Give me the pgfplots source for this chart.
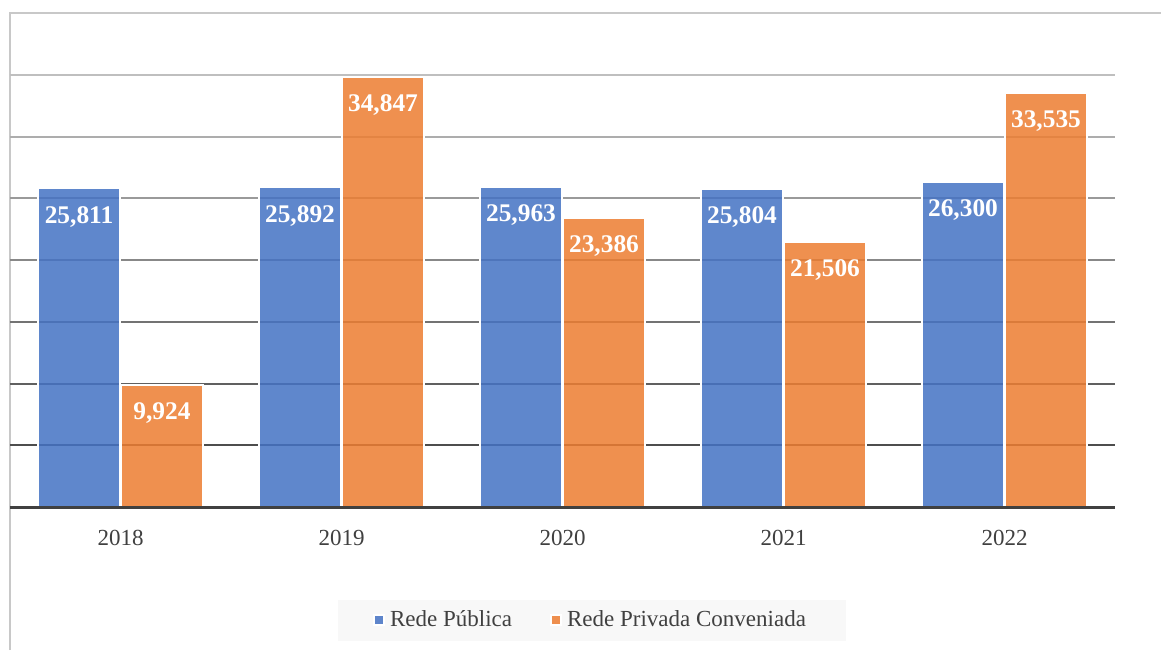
\documentclass[border=0pt]{standalone}
\usepackage{pgfplots}
\pgfplotsset{compat=1.18}
\usepackage{fontspec}
\setmainfont{Liberation Serif}
\definecolor{pubblue}{HTML}{4472C4}
\definecolor{privorange}{HTML}{ED7D31}
\definecolor{txtgray}{HTML}{404040}
\definecolor{framegray}{HTML}{C8C8C8}
\definecolor{legbg}{HTML}{F8F8F8}
\begin{document}
\begin{tikzpicture}
\useasboundingbox (0,0) rectangle (580.5pt,325pt);
\fill[white] (0,0) rectangle (580.5pt,325pt);
\draw[framegray, line width=1pt] (5pt,0pt) -- (5pt,318.5pt) -- (580.5pt,318.5pt);
\begin{axis}[
  at={(5pt,71.5pt)}, anchor=south west,
  scale only axis, width=552.5pt, height=216pt,
  xmin=-0.5, xmax=4.5, ymin=0, ymax=35000,
  axis line style={draw=none},
  ytick=\empty,
  xtick={0,1,2,3,4},
  xticklabels={2018,2019,2020,2021,2022},
  major tick length=0pt,
  tick style={draw=none},
  xticklabel style={font=\fontsize{11.5}{13}\selectfont, text=txtgray, anchor=base, yshift=-19pt},
  ybar, bar width=41pt,
  clip=false,
  nodes near coords={\pgfmathprintnumber[assume math mode=true]{\pgfplotspointmeta}},
  every node near coord/.append style={anchor=base, yshift=-17.3pt, text=white, text opacity=1,
     font=\fontsize{12.7}{15}\selectfont\bfseries},
  legend columns=2,
  legend cell align=left,
  legend image code/.code={\fill[#1] (0pt,-2.5pt) rectangle (5pt,2.5pt);},
  legend style={at={(0.5267,-0.2616)}, anchor=center, fill=legbg, draw=none,
     font=\fontsize{11.5}{13}\selectfont, text=txtgray,
     inner xsep=17.5pt, inner ysep=3pt, nodes={inner sep=2.5pt},
     /tikz/every even column/.append style={column sep=16.5pt}},
]
\draw[color={rgb,255:red,191;green,191;blue,191}, line width=1pt] (axis cs:-0.5,35000) -- (axis cs:4.5,35000);
\draw[color={rgb,255:red,173;green,173;blue,173}, line width=1pt] (axis cs:-0.5,30000) -- (axis cs:4.5,30000);
\draw[color={rgb,255:red,154;green,154;blue,154}, line width=1pt] (axis cs:-0.5,25000) -- (axis cs:4.5,25000);
\draw[color={rgb,255:red,136;green,136;blue,136}, line width=1pt] (axis cs:-0.5,20000) -- (axis cs:4.5,20000);
\draw[color={rgb,255:red,115;green,115;blue,115}, line width=1pt] (axis cs:-0.5,15000) -- (axis cs:4.5,15000);
\draw[color={rgb,255:red,96;green,96;blue,96}, line width=1pt] (axis cs:-0.5,10000) -- (axis cs:4.5,10000);
\draw[color={rgb,255:red,77;green,77;blue,77}, line width=1pt] (axis cs:-0.5,5000) -- (axis cs:4.5,5000);
\addplot[fill=pubblue, fill opacity=0.85, draw=white, line width=1pt, bar shift=-20.75pt]
  coordinates {(0,25811) (1,25892) (2,25963) (3,25804) (4,26300)};
\addplot[fill=privorange, fill opacity=0.85, draw=white, line width=1pt, bar shift=20.75pt]
  coordinates {(0,9924) (1,34847) (2,23386) (3,21506) (4,33535)};
\draw[txtgray, line width=1.5pt] (axis cs:-0.5,0) -- (axis cs:4.5,0);
\legend{Rede Pública, Rede Privada Conveniada}
\end{axis}
\end{tikzpicture}
\end{document}
